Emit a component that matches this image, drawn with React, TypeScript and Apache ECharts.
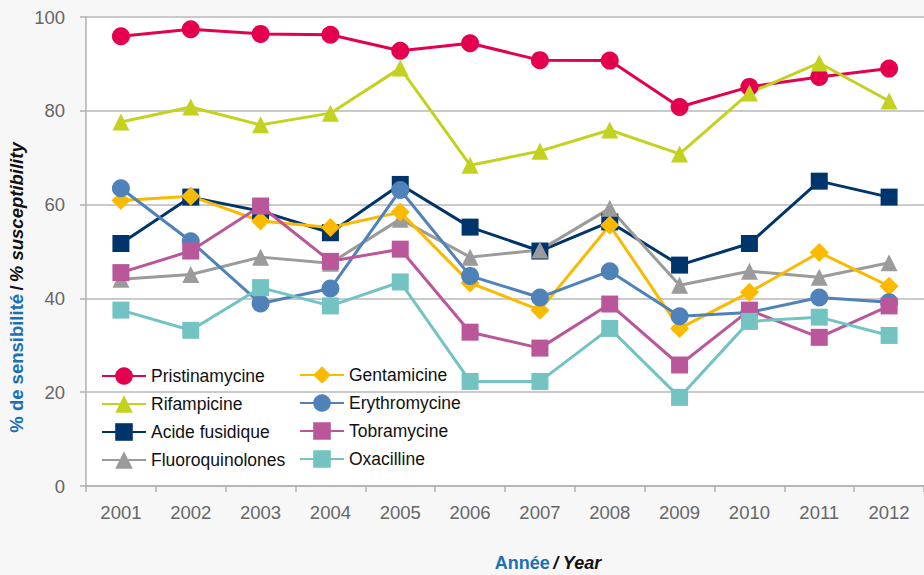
import React, { useEffect, useRef } from "react";
import * as echarts from "echarts";

const years = ["2001", "2002", "2003", "2004", "2005", "2006", "2007", "2008", "2009", "2010", "2011", "2012"];
const pristinamycine = [95.9, 97.4, 96.4, 96.2, 92.8, 94.4, 90.8, 90.7, 80.8, 85.1, 87.2, 89.0];
const rifampicine = [77.6, 80.8, 77.0, 79.5, 89.1, 68.4, 71.4, 75.9, 70.8, 83.8, 90.2, 82.1];
const acideFusidique = [51.7, 61.6, 58.6, 54.0, 64.3, 55.2, 50.1, 56.3, 47.1, 51.7, 65.0, 61.6];
const fluoroquinolones = [44.1, 45.1, 48.8, 47.5, 56.9, 48.8, 50.3, 59.2, 42.8, 45.8, 44.5, 47.6];
const gentamicine = [60.9, 61.8, 56.5, 55.1, 58.4, 43.3, 37.5, 55.6, 33.6, 41.3, 49.8, 42.6];
const erythromycine = [63.5, 52.2, 38.9, 42.1, 63.1, 44.8, 40.2, 45.8, 36.2, 37.0, 40.2, 39.2];
const tobramycine = [45.5, 50.1, 59.7, 47.9, 50.5, 32.8, 29.4, 38.8, 25.8, 37.5, 31.7, 38.4];
const oxacilline = [37.5, 33.2, 42.3, 38.4, 43.5, 22.3, 22.3, 33.6, 18.9, 35.1, 36.0, 32.1];

const seriesDefs = [
  { name: "Pristinamycine", data: pristinamycine, color: "#e4004f", symbol: "circle", size: 18 },
  { name: "Rifampicine", data: rifampicine, color: "#c2d21e", symbol: "triangle", size: 17 },
  { name: "Acide fusidique", data: acideFusidique, color: "#00356b", symbol: "rect", size: 17 },
  { name: "Fluoroquinolones", data: fluoroquinolones, color: "#9b9b9b", symbol: "triangle", size: 17 },
  { name: "Gentamicine", data: gentamicine, color: "#fbb900", symbol: "diamond", size: 19 },
  { name: "Erythromycine", data: erythromycine, color: "#4f82b9", symbol: "circle", size: 18 },
  { name: "Tobramycine", data: tobramycine, color: "#b9579a", symbol: "rect", size: 17 },
  { name: "Oxacilline", data: oxacilline, color: "#72c3c2", symbol: "rect", size: 17 },
];

const legendCol1 = ["Pristinamycine", "Rifampicine", "Acide fusidique", "Fluoroquinolones"];
const legendCol2 = ["Gentamicine", "Erythromycine", "Tobramycine", "Oxacilline"];

export default function App() {
  const ref = useRef<HTMLDivElement>(null);
  useEffect(() => {
    if (!ref.current) return;
    const chart = echarts.init(ref.current, undefined, { renderer: "svg" });
    const baseFont = "'Liberation Sans', Arial, sans-serif";
    const legendBase = {
      orient: "vertical",
      itemWidth: 44,
      itemHeight: 22,
      itemGap: 10,
      padding: 0,
      textStyle: { fontSize: 17.5, color: "#111", fontFamily: baseFont },
    };
    chart.setOption({
      animation: false,
      backgroundColor: "#f7f7f7",
      grid: {
        left: 86,
        top: 17,
        right: -6,
        bottom: 89,
        show: true,
        backgroundColor: "#ffffff",
        borderWidth: 0,
      },
      legend: [
        { ...legendBase, data: legendCol1, left: 101, top: 367 },
        { ...legendBase, data: legendCol2, left: 299, top: 366 },
      ],
      xAxis: {
        type: "category",
        data: years,
        boundaryGap: true,
        axisLine: { lineStyle: { color: "#b0b0b0", width: 1.5 } },
        axisTick: { show: true, length: 6, lineStyle: { color: "#b0b0b0", width: 1.5 } },
        axisLabel: { fontSize: 18.5, color: "#666", margin: 17, fontFamily: baseFont },
        splitLine: { show: false },
      },
      yAxis: {
        type: "value",
        min: 0,
        max: 100,
        interval: 20,
        axisLine: { show: true, lineStyle: { color: "#b0b0b0", width: 1.5 } },
        axisTick: { show: true, length: 6, lineStyle: { color: "#b0b0b0", width: 1.5 } },
        axisLabel: { fontSize: 18.5, color: "#666", margin: 21, fontFamily: baseFont },
        splitLine: { show: true, lineStyle: { color: "#b8b8b8", width: 1.5 } },
      },
      graphic: [
        {
          type: "text",
          x: 16,
          y: 287.5,
          rotation: Math.PI / 2,
          style: {
            text: "{a|% de sensibilité} {b|/} {c|% susceptibility}",
            align: "center",
            verticalAlign: "middle",
            rich: {
              a: { fontSize: 18.5, fontWeight: "bold", fill: "#1b6fb3", fontFamily: baseFont },
              b: { fontSize: 18.5, fontWeight: "bold", fill: "#111", fontFamily: baseFont },
              c: { fontSize: 18.5, fontWeight: "bold", fontStyle: "italic", fill: "#111", fontFamily: baseFont },
            },
          },
        },
        {
          type: "text",
          x: 548,
          y: 562.5,
          style: {
            text: "{a|Année} {b|/ Year}",
            align: "center",
            verticalAlign: "middle",
            rich: {
              a: { fontSize: 18, fontWeight: "bold", fill: "#1b6fb3", fontFamily: baseFont },
              b: { fontSize: 18, fontWeight: "bold", fontStyle: "italic", fill: "#111", fontFamily: baseFont },
            },
          },
        },
      ],
      series: seriesDefs.map((s) => ({
        name: s.name,
        type: "line",
        data: s.data,
        symbol: s.symbol,
        symbolSize: s.size,
        showAllSymbol: true,
        lineStyle: { color: s.color, width: 3 },
        itemStyle: { color: s.color },
        emphasis: { disabled: true },
      })),
    });
    return () => chart.dispose();
  }, []);
  return <div ref={ref} style={{ position: "absolute", left: 0, top: 0, width: 924, height: 575 }} />;
}
